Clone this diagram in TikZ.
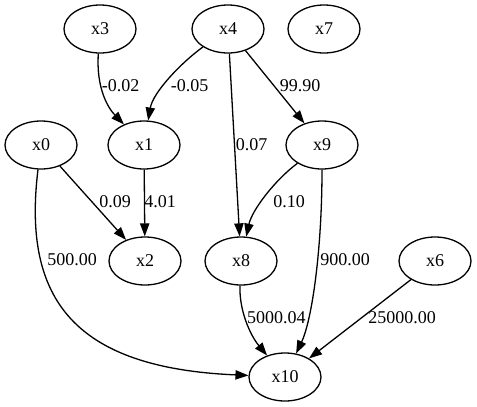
\documentclass[tikz,border=0pt]{standalone}
\usepackage{fontspec}
\setmainfont{Liberation Serif}
\usetikzlibrary{shapes.geometric,arrows.meta}
\begin{document}
\begin{tikzpicture}[x=1pt,y=-1pt,
  every node/.style={font=\fontsize{18}{21}\selectfont},
  vnode/.style={draw,ellipse,line width=1.3pt,minimum width=72pt,minimum height=48pt,inner sep=0pt},
  elabel/.style={inner sep=0pt},
  edge/.style={line width=1.3pt,-{Triangle[length=13pt,width=9.3pt]}}]
\useasboundingbox (0,0) rectangle (477,407);
% nodes
\node[vnode] (x3) at (100,29) {x3};
\node[vnode] (x4) at (228,29) {x4};
\node[vnode] (x7) at (324,29) {x7};
\node[vnode] (x0) at (41,145) {x0};
\node[vnode] (x1) at (144,145) {x1};
\node[vnode] (x9) at (322,145) {x9};
\node[vnode] (x2) at (145,261) {x2};
\node[vnode] (x8) at (241,261) {x8};
\node[vnode] (x6) at (435,261) {x6};
\node[vnode] (x10) at (285,377) {x10};
% edges
\draw[edge] (x3) .. controls (96,88) and (108,108) .. (x1);
\draw[edge] (x4) .. controls (182,62) and (153,92) .. (x1);
\draw[edge] (x4) -- (x8);
\draw[edge] (x4) -- (x9);
\draw[edge] (x0) -- (x2);
\draw[edge] (x1) -- (x2);
\draw[edge] (x0) .. controls (22,300) and (75,368) .. (x10);
\draw[edge] (x9) .. controls (275,180) and (252,210) .. (x8);
\draw[edge] (x9) .. controls (322,250) and (312,320) .. (x10);
\draw[edge] (x8) .. controls (239,310) and (250,335) .. (x10);
\draw[edge] (x6) -- (x10);
% labels
\node[elabel] (l31) at (120.7,86) {-0.02};
\node[elabel] (l41) at (189.7,86) {-0.05};
\node[elabel] (l49) at (300,86) {99.90};
\node[elabel] (l48) at (251.5,145) {0.07};
\node[elabel] (l02) at (115,202) {0.09};
\node[elabel] (l12) at (160,202) {4.01};
\node[elabel] (l010) at (72,260) {500.00};
\node[elabel] (l98) at (289,202) {0.10};
\node[elabel] (l910) at (345,260) {900.00};
\node[elabel] (l810) at (276.3,318) {5000.04};
\node[elabel] (l610) at (402,318) {25000.00};
\end{tikzpicture}
\end{document}
